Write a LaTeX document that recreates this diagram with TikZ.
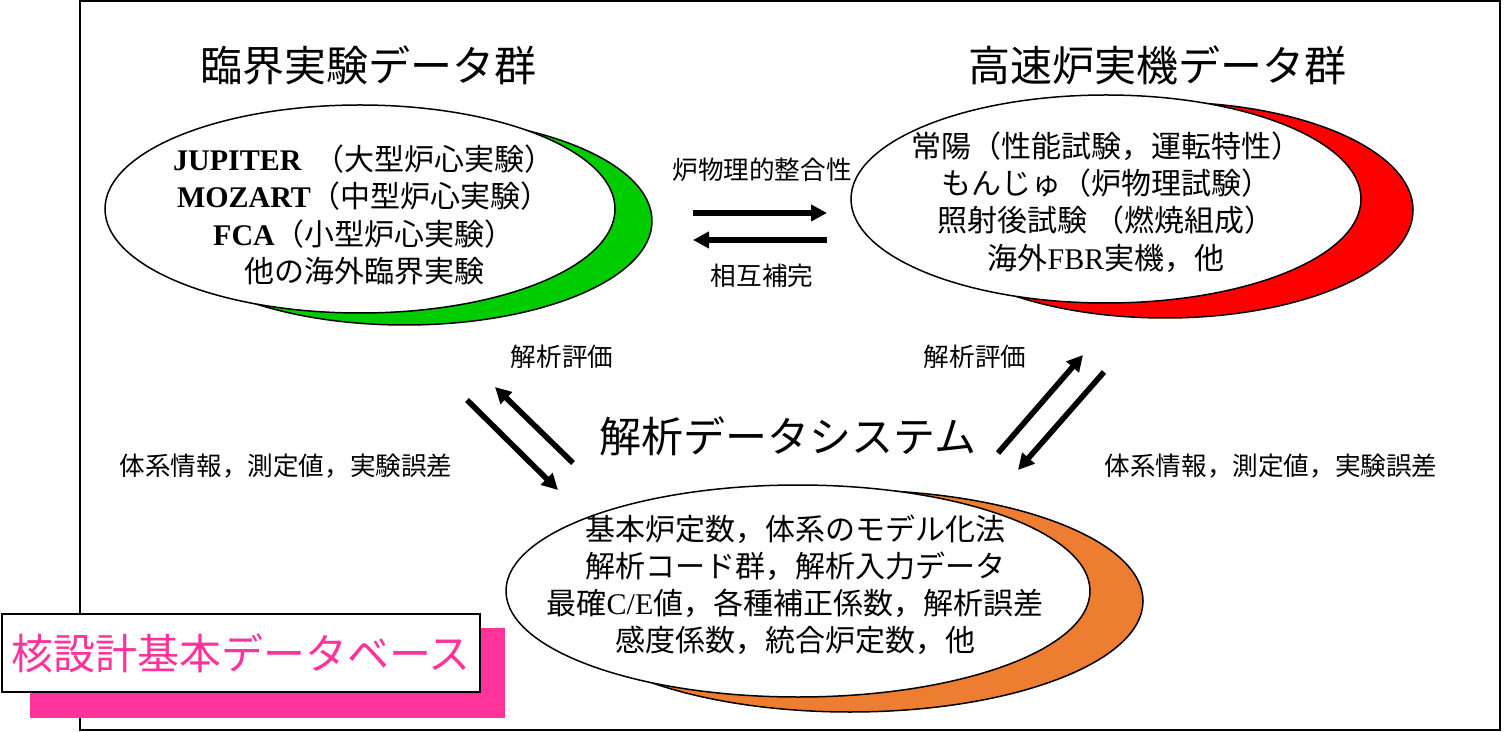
\documentclass[tikz,border=0pt]{standalone}
\usepackage{fontspec}
\setmainfont{Noto Sans CJK JP}
\newfontfamily\tms{Liberation Serif}
\usetikzlibrary{arrows.meta}
\definecolor{grn}{RGB}{0,204,0}
\definecolor{org}{RGB}{237,125,49}
\definecolor{pnk}{RGB}{255,51,153}
\begin{document}
\begin{tikzpicture}[x=0.5pt,y=-0.5pt,
  ell/.style={draw=black,line width=0.75pt,fill=white},
  moon/.style={draw=black,line width=0.75pt},
  big/.style={font=\fontsize{21}{25}\selectfont,inner sep=0pt},
  body/.style={font=\fontsize{15}{18.6}\selectfont,align=center,inner sep=0pt},
  lab/.style={font=\fontsize{12.8}{15}\selectfont,inner sep=0pt},
  arr/.style={line width=2.8pt,-{Triangle[length=8pt,width=8pt]}}]
\useasboundingbox (0,0) rectangle (1504,732);
\draw[line width=1pt] (80,1) rectangle (1500,730);

% left group
\node[big] (t1) at (368,65) {臨界実験データ群};
\draw[moon,fill=grn] (405,221) ellipse [x radius=123.5pt, y radius=52pt];
\draw[ell] (360,209) ellipse [x radius=127.5pt, y radius=52pt];
\node[body] (lt) at (364,215) {{\tms\bfseries JUPITER}\ \ （大型炉心実験）\\ {\tms\bfseries MOZART}（中型炉心実験）\\ {\tms\bfseries FCA}（小型炉心実験）\\ 他の海外臨界実験};

% right group
\node[big] (t2) at (1157,65) {高速炉実機データ群};
\draw[moon,fill=red] (1165,210) ellipse [x radius=124pt, y radius=54pt];
\draw[ell] (1106,199) ellipse [x radius=127.5pt, y radius=52pt];
\node[body] (rt) at (1106,202) {常陽（性能試験，運転特性）\\ もんじゅ（炉物理試験）\\ 照射後試験\ （燃焼組成）\\ 海外{\tms FBR}実機，他};

% bottom group
\node[big] (t3) at (788,436) {解析データシステム};
\draw[moon,fill=org] (850,601) ellipse [x radius=146.5pt, y radius=55.5pt];
\draw[ell] (798,591) ellipse [x radius=146pt, y radius=53pt];
\node[body] (bt) at (795,585) {基本炉定数，体系のモデル化法\\ 解析コード群，解析入力データ\\ 最確{\tms C/E}値，各種補正係数，解析誤差\\ 感度係数，統合炉定数，他};

% labels
\node[lab] (l1) at (762,170) {炉物理的整合性};
\node[lab] (l2) at (762,276) {相互補完};
\node[lab] (l3) at (562,357) {解析評価};
\node[lab] (l4) at (975,357) {解析評価};
\node[lab] (l5) at (286,466) {体系情報，測定値，実験誤差};
\node[lab] (l6) at (1271,466) {体系情報，測定値，実験誤差};

% arrows
\coordinate (h1s) at (693,213); \coordinate (h1e) at (827,213);
\coordinate (h2s) at (827,240); \coordinate (h2e) at (693,240);
\coordinate (d1s) at (467,400); \coordinate (d1e) at (558,490);
\coordinate (d2s) at (573,463); \coordinate (d2e) at (495,387);
\coordinate (d3s) at (998,453); \coordinate (d3e) at (1083,355);
\coordinate (d4s) at (1104,372); \coordinate (d4e) at (1018,470);
\draw[arr] (h1s) -- (h1e);
\draw[arr] (h2s) -- (h2e);
\draw[arr] (d1s) -- (d1e);
\draw[arr] (d2s) -- (d2e);
\draw[arr] (d3s) -- (d3e);
\draw[arr] (d4s) -- (d4e);

% database box
\fill[pnk] (30,628) rectangle (505,718);
\node[draw,line width=1pt,fill=white,minimum width=239pt,minimum height=39pt,inner sep=0pt,
  font=\fontsize{21}{25}\selectfont,text=pnk] (db) at (241,653) {核設計基本データベース};
\end{tikzpicture}
\end{document}
